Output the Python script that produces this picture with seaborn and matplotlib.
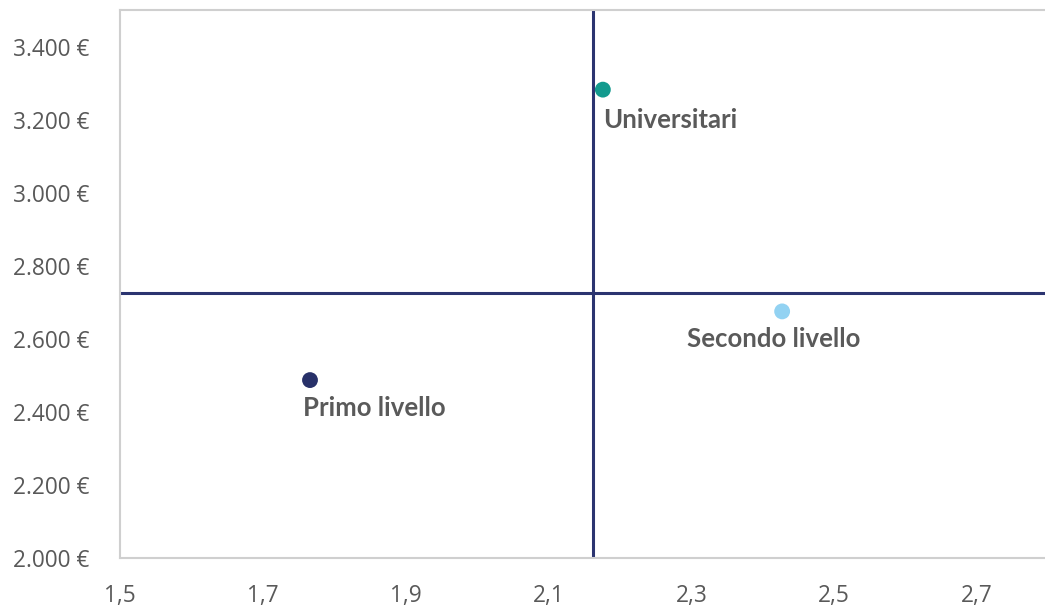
import matplotlib
matplotlib.use("Agg")
import matplotlib.pyplot as plt
import seaborn as sns
import pandas as pd
from matplotlib.ticker import FuncFormatter, FixedLocator

# Data: average value (x) vs. monthly amount in euro (y)
categories = ["Primo livello", "Universitari", "Secondo livello"]
x_values = [1.766, 2.176, 2.427]
y_values = [2487, 3282, 2675]
colors = ["#283169", "#129a8e", "#92d2f2"]

# Reference lines (averages)
x_ref = 2.162
y_ref = 2725

x_ticks = [1.5, 1.7, 1.9, 2.1, 2.3, 2.5, 2.7]
y_ticks = [2000, 2200, 2400, 2600, 2800, 3000, 3200, 3400]

# label offsets in points (dx, dy) and horizontal alignment
label_offsets = {
    "Primo livello": (-5, -20, "left"),
    "Universitari": (0, -22, "left"),
    "Secondo livello": (-6, -20, "center"),
}

df = pd.DataFrame({"categoria": categories, "x": x_values, "y": y_values})

sns.set_theme(style="white")
plt.rcParams["font.family"] = ["Open Sans", "DejaVu Sans"]

fig = plt.figure(figsize=(10.45, 6.1), dpi=100)
ax = fig.add_axes([120 / 1045, 1 - 558 / 610, 1 - 120 / 1045, (558 - 10) / 610])

ax.axvline(x_ref, color="#2b3470", lw=2.2, zorder=1)
ax.axhline(y_ref, color="#2b3470", lw=2.2, zorder=1)

sns.scatterplot(data=df, x="x", y="y", hue="categoria", palette=colors,
                s=130, edgecolor="none", legend=False, ax=ax, zorder=3)

for cat, xv, yv in zip(categories, x_values, y_values):
    dx, dy, ha = label_offsets[cat]
    ax.annotate(cat, (xv, yv), xytext=(dx, dy), textcoords="offset points",
                ha=ha, va="center", fontsize=18.5, fontweight="bold",
                color="#5a5a5a", family=["Lato", "DejaVu Sans"])

ax.set_xlim(1.5, 2.795)
ax.set_ylim(2000, 3500)
ax.xaxis.set_major_locator(FixedLocator(x_ticks))
ax.yaxis.set_major_locator(FixedLocator(y_ticks))
ax.xaxis.set_major_formatter(FuncFormatter(lambda v, p: f"{v:.1f}".replace(".", ",")))
ax.yaxis.set_major_formatter(FuncFormatter(lambda v, p: f"{int(v):,} €".replace(",", ".")))
ax.tick_params(axis="both", labelsize=16.3, labelcolor="#595959", length=0)
ax.tick_params(axis="x", pad=19)
ax.tick_params(axis="y", pad=77)
for lbl in ax.get_yticklabels():
    lbl.set_horizontalalignment("left")
ax.set_xlabel("")
ax.set_ylabel("")

for side in ["left", "top", "bottom"]:
    ax.spines[side].set_color("#cfcfcf")
    ax.spines[side].set_linewidth(1.5)
ax.spines["right"].set_visible(False)

fig.savefig("out.png", dpi=100)
